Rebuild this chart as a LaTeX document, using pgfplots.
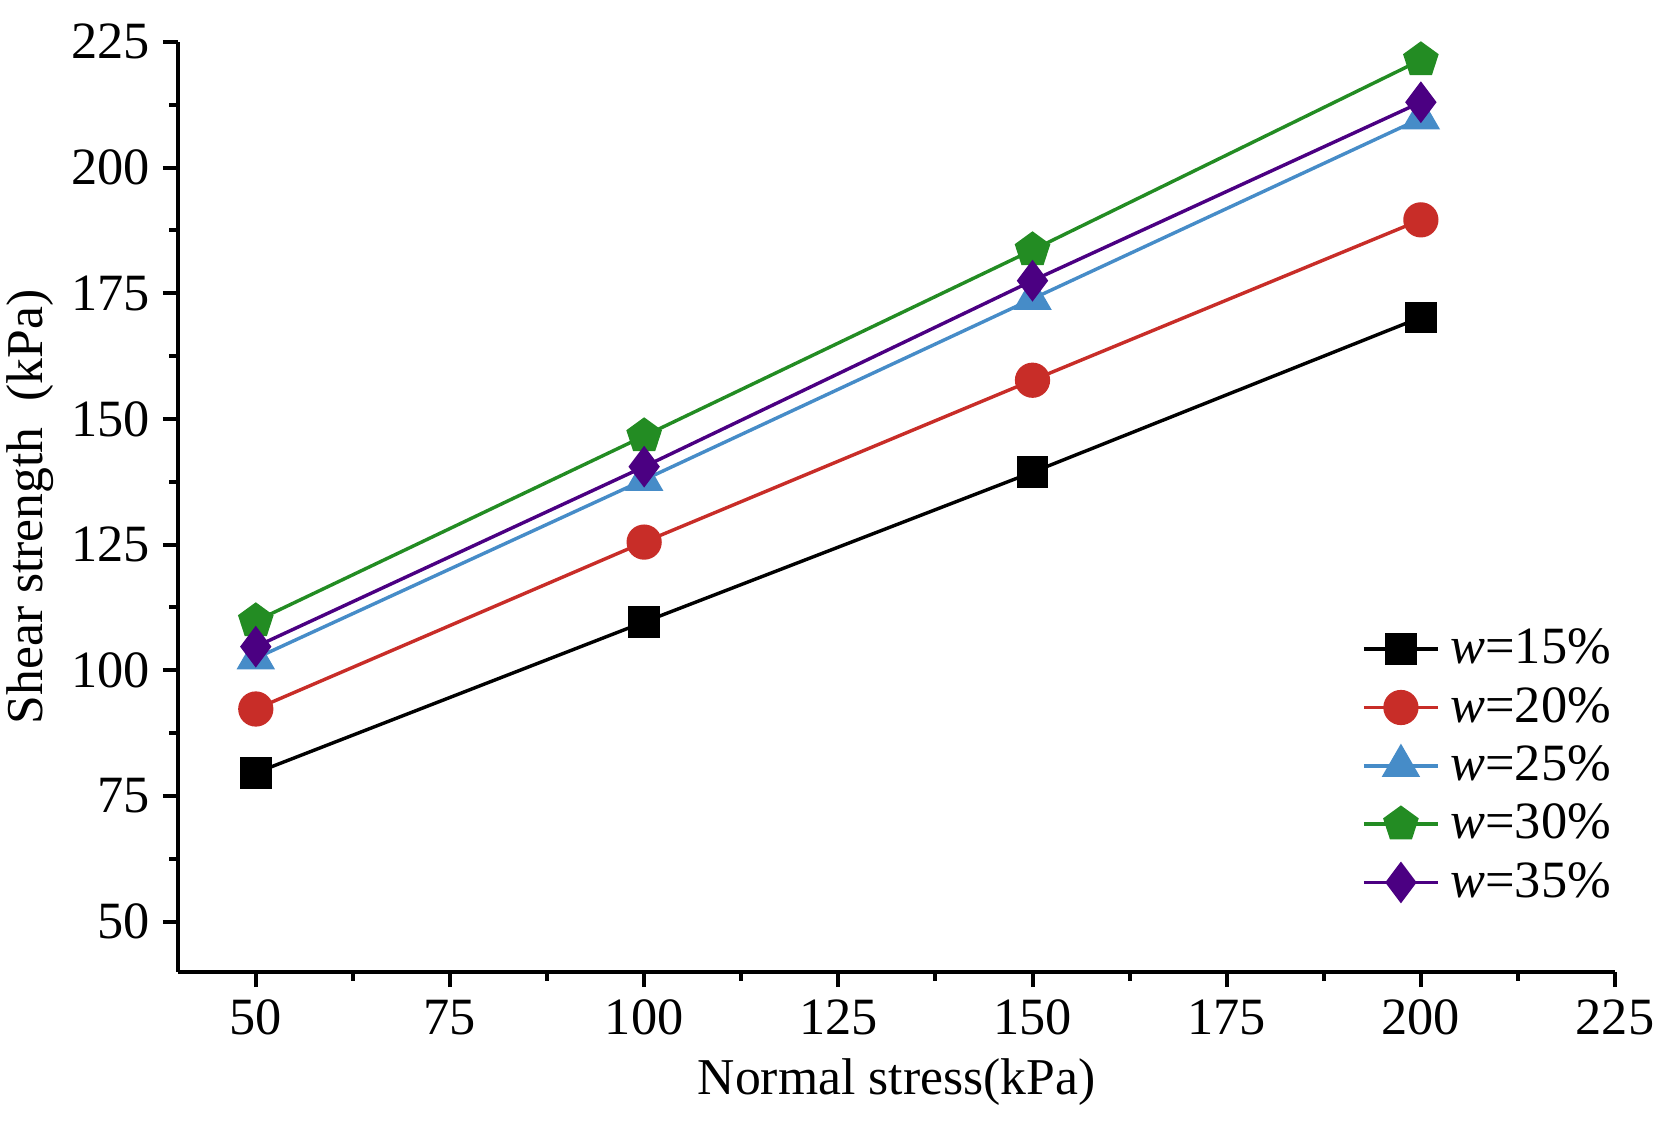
\documentclass[border=0pt]{standalone}
\usepackage{pgfplots}
\pgfplotsset{compat=1.18}
\usepackage{fontspec}
\setmainfont{Liberation Serif}
\definecolor{cR}{RGB}{200,45,40}
\definecolor{cB}{RGB}{70,140,200}
\definecolor{cG}{RGB}{35,140,35}
\definecolor{cP}{RGB}{75,0,130}
\begin{document}
\begin{tikzpicture}
\begin{axis}[
  scale only axis,
  width=397.7pt, height=257.4pt,
  xmin=40, xmax=225, ymin=40, ymax=225,
  axis lines*=left,
  axis line style={line width=1.1pt},
  xtick={50,75,...,225}, ytick={50,75,...,225},
  minor x tick num=1, minor y tick num=1,
  tick align=outside,
  major tick length=4.2pt, minor tick length=2.5pt,
  tick style={line width=1.1pt, black},
  /pgf/number format/assume math mode=true,
  tick label style={font=\fontsize{14.5}{17}\selectfont},
  xlabel={Normal stress(kPa)},
  ylabel={Shear strength\ \ (kPa)},
  label style={font=\fontsize{14.3}{17}\selectfont},
  xlabel style={yshift=0.5pt},
  ylabel style={yshift=-2pt},
  legend style={draw=none, fill=none, at={(0.816,0.385)}, anchor=north west,
    font=\fontsize{14.5}{17}\selectfont, row sep=1pt},
  legend cell align=left,
  legend image code/.code={\draw[mark repeat=2,mark phase=2] plot coordinates {(0cm,0cm) (0.36cm,0cm) (0.72cm,0cm)};},
  every axis plot/.append style={line width=0.95pt},
]
\addplot[black, mark=square*, mark size=3.9pt] coordinates {(50,79.6) (100,109.6) (150,139.4) (200,170.2)};
\addlegendentry{\hspace{1pt}\textit{w}=15\%}
\addplot[cR, mark=*, mark size=4.4pt, mark options={fill=cR}] coordinates {(50,92.3) (100,125.5) (150,157.7) (200,189.6)};
\addlegendentry{\hspace{1pt}\textit{w}=20\%}
\addplot[cB, mark=triangle*, mark size=5.2pt, mark options={fill=cB}] coordinates {(50,102.4) (100,137.9) (150,173.9) (200,209.8)};
\addlegendentry{\hspace{1pt}\textit{w}=25\%}
\addplot[cG, mark=pentagon*, mark size=4.6pt, mark options={fill=cG}] coordinates {(50,109.8) (100,146.6) (150,183.6) (200,221.4)};
\addlegendentry{\hspace{1pt}\textit{w}=30\%}
\addplot[cP, mark=diamond*, mark size=5.0pt, mark options={fill=cP}] coordinates {(50,104.7) (100,140.5) (150,177.5) (200,213.0)};
\addlegendentry{\hspace{1pt}\textit{w}=35\%}
\end{axis}
\pgfresetboundingbox
\path (-49.3pt,-42.1pt) rectangle (410.7pt,269.0pt);
\end{tikzpicture}
\end{document}
